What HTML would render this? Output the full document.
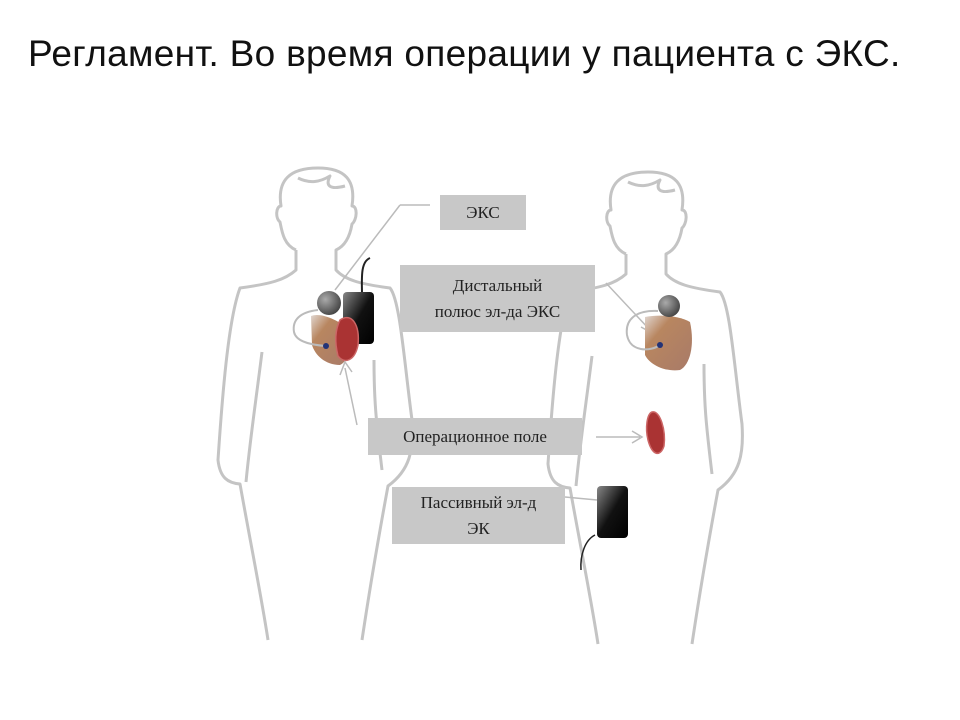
<!DOCTYPE html>
<html><head><meta charset="utf-8"><style>
body{margin:0;width:960px;height:720px;background:#fff;overflow:hidden;font-family:"Liberation Sans",sans-serif}
.t{position:absolute;left:28px;top:33px;font-size:37px;color:#111;white-space:nowrap;letter-spacing:0.3px}
.b{position:absolute;background:#c8c8c8;font-family:"Liberation Serif",serif;font-size:17px;color:#222;text-align:center;display:flex;align-items:center;justify-content:center;line-height:26px}
</style></head><body>
<div class="t">Регламент. Во время операции у пациента с ЭКС.</div>
<svg width="960" height="720" style="position:absolute;left:0;top:0">
<defs>
<g id="fig" fill="none" stroke="#c4c4c4" stroke-width="3" stroke-linejoin="round">
<path d="M296,250 C284,245 282,232 280,222 C275,218 276,206 281,206 C277,180 290,168 318,168 C345,168 356,180 352,206 C358,206 357,220 352,224 C350,236 345,246 336,250 L336,270 C345,280 360,284 390,288 C400,300 404,360 412,420 C414,450 410,470 388,486 C378,540 368,600 362,640"/>
<path d="M296,250 L296,270 C285,280 270,284 240,288 C228,320 222,400 218,460 C220,478 228,483 240,484 C250,540 262,600 268,640"/>
<path d="M262,352 C256,400 250,440 246,482"/>
<path d="M298,178 C310,184 320,182 330,176 C325,186 330,190 345,186"/>
<path d="M382,470 C376,420 374,400 374,360"/>
</g>
<radialGradient id="sp" cx="0.35" cy="0.35" r="0.7"><stop offset="0" stop-color="#aaa"/><stop offset="1" stop-color="#444"/></radialGradient>
<linearGradient id="bx" x1="0" y1="0" x2="1" y2="1"><stop offset="0" stop-color="#888"/><stop offset="0.5" stop-color="#111"/><stop offset="1" stop-color="#000"/></linearGradient>
<linearGradient id="ht" x1="0" y1="0" x2="1" y2="1"><stop offset="0" stop-color="#e0d6d0"/><stop offset="0.3" stop-color="#b88660"/><stop offset="1" stop-color="#a87a68"/></linearGradient>
</defs>
<use href="#fig"/>
<use href="#fig" transform="translate(330,4)"/>
<path d="M370,258 C360,262 362,280 362,295" stroke="#222" stroke-width="2" fill="none"/>
<rect x="343" y="292" width="31" height="52" rx="4" fill="url(#bx)"/>
<path d="M311,316 C320,312 340,320 348,330 C352,345 350,360 340,365 C325,365 315,355 312,345 Z" fill="url(#ht)"/>
<path d="M340,320 C352,312 360,325 358,345 C355,360 345,365 338,356 C334,340 336,328 340,320 Z" fill="#a33" stroke="#c66" stroke-width="1.5"/>
<circle cx="329" cy="303" r="12" fill="url(#sp)"/>
<path d="M318,310 C300,312 292,320 294,332 C296,342 312,345 326,346" stroke="#bbb" stroke-width="2" fill="none"/>
<circle cx="326" cy="346" r="3" fill="#237"/>
<path d="M400,205 L430,205 M400,205 L335,290" stroke="#bbb" stroke-width="1.5" fill="none"/>
<path d="M357,425 L345,368 M340,375 L345,362 L352,372" stroke="#bbb" stroke-width="1.5" fill="none"/>
<path d="M606,283 L650,330 M641,327 L652,333 L648,321" stroke="#bbb" stroke-width="1.5" fill="none"/>
<path d="M645,317 C660,314 680,316 690,322 C695,345 690,365 680,370 C665,372 650,365 645,355 Z" fill="url(#ht)"/>
<circle cx="669" cy="306" r="11" fill="url(#sp)"/>
<path d="M658,311 C635,310 625,320 627,335 C630,352 650,352 660,345" stroke="#bbb" stroke-width="2" fill="none"/>
<circle cx="660" cy="345" r="3" fill="#237"/>
<path d="M596,437 L640,437 M632,431 L642,437 L632,443" stroke="#bbb" stroke-width="1.5" fill="none"/>
<path d="M652,412 C660,410 666,430 664,446 C660,458 652,455 648,440 C645,428 647,414 652,412 Z" fill="#a33" stroke="#c66" stroke-width="1.5"/>
<path d="M565,497 L597,500" stroke="#bbb" stroke-width="1.5"/>
<rect x="597" y="486" width="31" height="52" rx="4" fill="url(#bx)"/>
<path d="M595,535 C585,540 580,555 581,570" stroke="#222" stroke-width="1.5" fill="none"/>
</svg>
<div class="b" style="left:440px;top:195px;width:86px;height:35px">ЭКС</div>
<div class="b" style="left:400px;top:265px;width:195px;height:67px">Дистальный<br>полюс эл-да ЭКС</div>
<div class="b" style="left:368px;top:418px;width:214px;height:37px">Операционное поле</div>
<div class="b" style="left:392px;top:487px;width:173px;height:57px">Пассивный эл-д<br>ЭК</div>
</body></html>
